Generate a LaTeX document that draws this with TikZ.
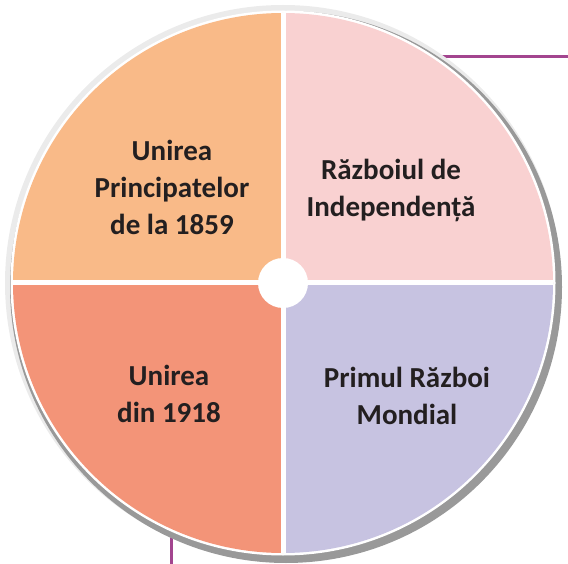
\documentclass[tikz,border=0pt]{standalone}
\usepackage{fontspec}
\setmainfont{Carlito}
\usepackage{xcolor}
\usetikzlibrary{positioning,calc}

\definecolor{qorange}{HTML}{F9BA88}
\definecolor{qpink}{HTML}{F9D1D1}
\definecolor{qsalmon}{HTML}{F39478}
\definecolor{qlilac}{HTML}{C7C3E1}
\definecolor{qtext}{HTML}{231F20}
\definecolor{qframe}{HTML}{A3458F}

\begin{document}
\begin{tikzpicture}[
    x=1pt, y=-1pt,
    every node/.style={font=\fontsize{29}{37}\selectfont\bfseries, text=qtext},
    label/.style={align=center, inner sep=0pt},
    gap/.style={draw=white, line width=5pt},
]
    \useasboundingbox (0,0) rectangle (568,564);
    \coordinate (c) at (283,283);

    % FRAME (behind the disc)
    \draw[qframe, line width=3pt] (568,57) -- (171,57) -- (171,564);

    % RIM + SHADOW
    \fill[black!8] (c) circle (278);
    \fill[black!40] ($(c)+(3,4)$) circle (276);
    \fill[white] (c) circle (272.5);

    % QUADRANTS
    \begin{scope}
        \clip (c) circle (270);
        \fill[qorange] (0,0) rectangle (c);
        \fill[qpink] (568,0) rectangle (c);
        \fill[qsalmon] (0,564) rectangle (c);
        \fill[qlilac] (568,564) rectangle (c);
        \draw[gap] (283,0) -- (283,564);
        \draw[gap] (0,283) -- (568,283);
    \end{scope}
    \fill[white] (c) circle (25);

    % LABELS
    \node[label] (unire) at (172,187) {Unirea\\Principatelor\\de la 1859};
    \node[label] (razboi) at (391,190) {Războiul de\\Independență};
    \node[label] (unire18) at (169,394) {Unirea\\din 1918};
    \node[label] (mondial) at (407,396) {Primul Război\\Mondial};
\end{tikzpicture}
\end{document}
